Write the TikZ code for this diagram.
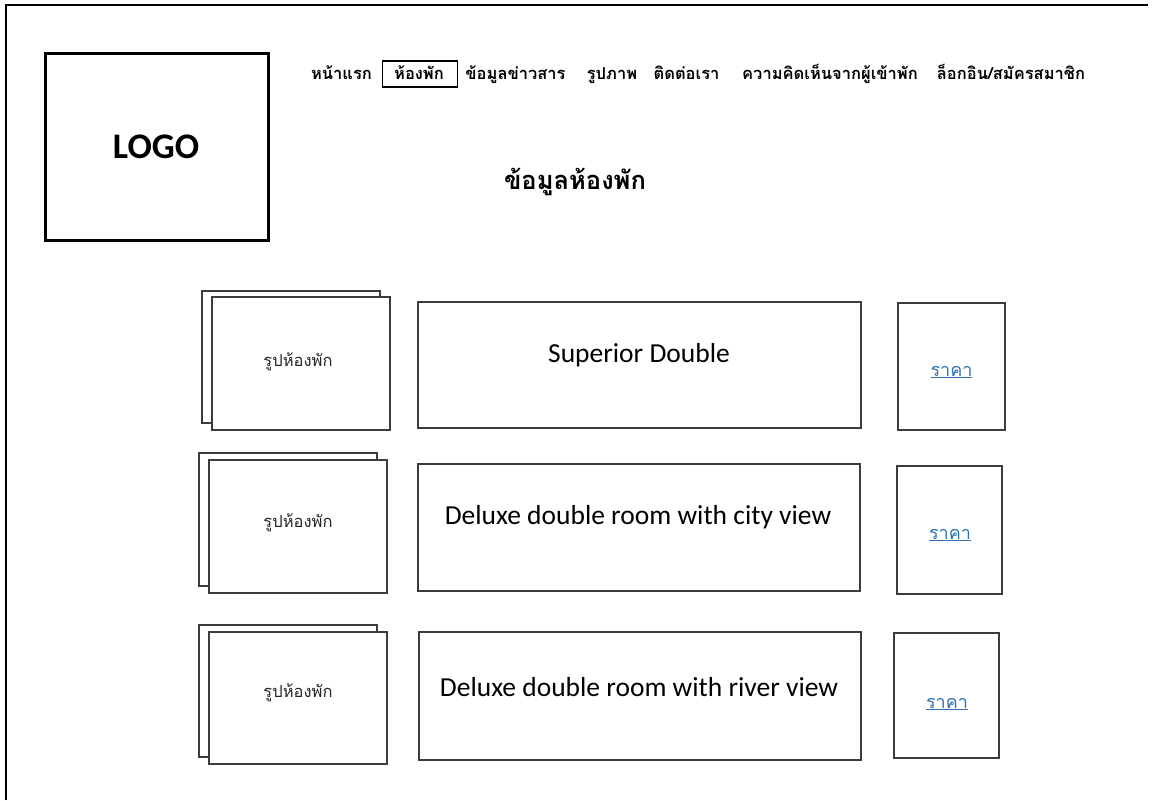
\documentclass[tikz,border=0pt]{standalone}
\usepackage{fontspec}
\setmainfont{Carlito}
\newfontfamily\thai[Script=Thai]{Loma}
\definecolor{edge}{RGB}{60,60,60}
\definecolor{link}{RGB}{46,116,181}
\begin{document}
\begin{tikzpicture}[x=1pt,y=-1pt,
  box/.style={draw=edge,line width=1.3pt,fill=white,inner sep=0pt,minimum width=#1},
  photo/.style={box=178, minimum height=132},
  navitem/.style={font=\thai\bfseries\fontsize{16.5}{19}\selectfont,anchor=base,inner sep=0pt},
  roomname/.style={font=\fontsize{27.5}{32}\selectfont,inner sep=0pt},
  phototext/.style={font=\thai\fontsize{16.5}{19}\selectfont,inner sep=0pt,text=black!85},
  pricetext/.style={font=\thai\fontsize{18}{21}\selectfont,inner sep=0pt,text=link}]
\useasboundingbox (0,0) rectangle (1153,800);
% frame
\draw[line width=2pt] (6,800) -- (6,5) -- (1148,5);
% logo
\node[draw=black,line width=3pt,minimum width=223,minimum height=186,inner sep=0pt] (logo) at (156.5,147) {};
\node[font=\bfseries\fontsize{36}{40}\selectfont,inner sep=0pt] (logotext) at (156,147) {LOGO};
% navigation
\node[navitem] (n1) at (341.5,79) {หน้าแรก};
\node[draw=black,line width=1.3pt,minimum width=75,minimum height=26,inner sep=0pt] (n2box) at (420,74) {};
\node[navitem] (n2) at (419,79) {ห้องพัก};
\node[navitem] (n3) at (515.5,79) {ข้อมูลข่าวสาร};
\node[navitem] (n4) at (612,79) {รูปภาพ};
\node[navitem] (n5) at (686.5,79) {ติดต่อเรา};
\node[navitem] (n6) at (830,79) {ความคิดเห็นจากผู้เข้าพัก};
\node[navitem] (n7) at (1011,79) {ล็อกอิน/สมัครสมาชิก};
% title
\node[font=\thai\bfseries\fontsize{25.5}{30}\selectfont,inner sep=0pt] (title) at (575,182) {ข้อมูลห้องพัก};
% row 1
\node[photo] (b1) at (291,357) {};
\node[photo,minimum height=133] (f1) at (301,363.5) {};
\node[phototext] (p1) at (298,362) {รูปห้องพัก};
\node[box=443,minimum height=126] (r1) at (639.5,365) {};
\node[roomname] (t1) at (639,355) {Superior Double};
\node[box=107,minimum height=127] (c1) at (951.5,366.5) {};
\node[pricetext] (k1) at (951.5,372) {\underline{ราคา}};
% row 2
\node[photo,minimum height=133] (b2) at (288,519.5) {};
\node[photo,minimum height=133] (f2) at (298,526.5) {};
\node[phototext] (p2) at (298,523) {รูปห้องพัก};
\node[box=442,minimum height=127] (r2) at (639,527.5) {};
\node[roomname] (t2) at (638,517) {Deluxe double room with city view};
\node[box=105,minimum height=128] (c2) at (949.5,530) {};
\node[pricetext] (k2) at (950,535) {\underline{ราคา}};
% row 3
\node[photo] (b3) at (288,691) {};
\node[photo] (f3) at (298,698) {};
\node[phototext] (p3) at (298,693) {รูปห้องพัก};
\node[box=442,minimum height=128] (r3) at (640,696) {};
\node[roomname] (t3) at (639,687) {Deluxe double room with river view};
\node[box=105,minimum height=125] (c3) at (946.5,695.5) {};
\node[pricetext] (k3) at (947,704) {\underline{ราคา}};
\end{tikzpicture}
\end{document}
